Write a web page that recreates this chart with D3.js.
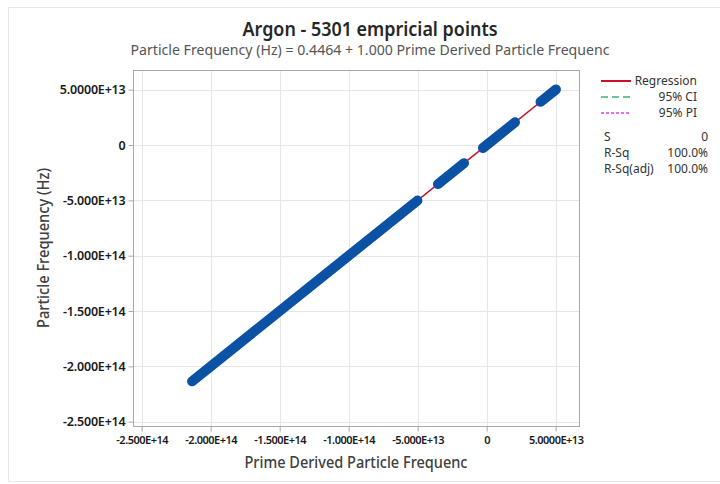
<!DOCTYPE html>
<html>
<head>
<meta charset="utf-8">
<script src="https://cdn.jsdelivr.net/npm/d3@7"></script>
<style>
  html, body { margin: 0; padding: 0; background: #fff; }
  svg { display: block; font-family: "Noto Sans", "Open Sans", sans-serif; }
</style>
</head>
<body>
<svg id="chart" width="720" height="484"></svg>
<script>
// Observed runs of points along the fit (Hz). Each run is dense enough to read as a solid band.
const runStartX = [-2.135e14, -3.53e13, -2.7e12, 3.90e13];
const runEndX   = [-5.02e13, -1.64e13, 2.05e13, 5.02e13];
const runStartY = [-2.135e14, -3.53e13, -2.7e12, 3.90e13];
const runEndY   = [-5.02e13, -1.64e13, 2.05e13, 5.02e13];

// Fitted regression
const intercept = 0.4464;
const slope = 1.000;

// Axis ticks
const tickValues = [-2.5e14, -2.0e14, -1.5e14, -1.0e14, -5.0e13, 0, 5.0e13];
const tickLabels = ["-2.500E+14", "-2.000E+14", "-1.500E+14", "-1.000E+14", "-5.000E+13", "0", "5.0000E+13"];

// Legend & summary
const legendNames = ["Regression", "95% CI", "95% PI"];
const legendColors = ["#c8102e", "#3cb371", "#e040e8"];
const legendDash = [null, "7,4", "3,2"];
const statNames = ["S", "R-Sq", "R-Sq(adj)"];
const statValues = ["0", "100.0%", "100.0%"];

const svg = d3.select("#chart");
const plot = { left: 133, top: 70, right: 579, bottom: 426 };

const x = d3.scaleLinear().domain([-2.563e14, 6.69e13]).range([plot.left, plot.right]);
const y = d3.scaleLinear().domain([-2.539e14, 6.78e13]).range([plot.bottom, plot.top]);

// outer panel edge
svg.append("rect").attr("x", 8.5).attr("y", 7.5).attr("width", 730).attr("height", 474)
  .attr("fill", "none").attr("stroke", "#e8e8e8");

// titles
svg.append("text").attr("x", 370).attr("y", 35.5).attr("text-anchor", "middle")
  .attr("font-size", 19).attr("font-weight", 600).attr("fill", "#262626")
  .attr("textLength", 255).attr("lengthAdjust", "spacingAndGlyphs")
  .text("Argon - 5301 empricial points");
svg.append("text").attr("x", 370).attr("y", 55).attr("text-anchor", "middle")
  .attr("font-size", 14.5).attr("fill", "#555")
  .attr("textLength", 479).attr("lengthAdjust", "spacingAndGlyphs")
  .text(`Particle Frequency (Hz) = ${intercept} + ${slope.toFixed(3)} Prime Derived Particle Frequenc`);

// gridlines
const grid = svg.append("g").attr("stroke", "#e6e6e6").attr("stroke-width", 1);
grid.selectAll(".gx").data(tickValues).join("line")
  .attr("x1", d => Math.round(x(d)) + 0.5).attr("x2", d => Math.round(x(d)) + 0.5)
  .attr("y1", plot.top).attr("y2", plot.bottom);
grid.selectAll(".gy").data(tickValues).join("line")
  .attr("y1", d => Math.round(y(d)) + 0.5).attr("y2", d => Math.round(y(d)) + 0.5)
  .attr("x1", plot.left).attr("x2", plot.right);

// plot frame
svg.append("rect").attr("x", plot.left + 0.5).attr("y", plot.top + 0.5)
  .attr("width", plot.right - plot.left).attr("height", plot.bottom - plot.top)
  .attr("fill", "none").attr("stroke", "#a8a8a8");

// axes
const fmt = d => tickLabels[tickValues.indexOf(d)];
const xAxis = svg.append("g").attr("transform", `translate(0,${plot.bottom + 0.5})`)
  .call(d3.axisBottom(x).tickValues(tickValues).tickFormat(fmt).tickSize(5).tickPadding(5));
const yAxis = svg.append("g").attr("transform", `translate(${plot.left + 0.5},0)`)
  .call(d3.axisLeft(y).tickValues(tickValues).tickFormat(fmt).tickSize(5).tickPadding(3));
[xAxis, yAxis].forEach(a => {
  a.select(".domain").remove();
  a.selectAll(".tick line").attr("stroke", "#a8a8a8");
  a.selectAll(".tick text").attr("fill", "#1a1a1a").attr("font-family", "'Noto Sans', sans-serif");
});
xAxis.selectAll(".tick text").attr("font-size", 11).attr("font-weight", 600)
  .attr("letter-spacing", -0.5);
yAxis.selectAll(".tick text").attr("font-size", 12.5).attr("font-weight", 600)
  .attr("letter-spacing", -0.2);

// axis titles
svg.append("text").attr("x", (plot.left + plot.right) / 2).attr("y", 468)
  .attr("text-anchor", "middle").attr("font-size", 15.5).attr("font-weight", 500).attr("fill", "#404040")
  .attr("textLength", 223).attr("lengthAdjust", "spacingAndGlyphs")
  .text("Prime Derived Particle Frequenc");
svg.append("text").attr("transform", `translate(49,${(plot.top + plot.bottom) / 2}) rotate(-90)`)
  .attr("text-anchor", "middle").attr("font-size", 15.5).attr("font-weight", 500).attr("fill", "#404040")
  .attr("textLength", 160).attr("lengthAdjust", "spacingAndGlyphs")
  .text("Particle Frequency (Hz)");

// regression line across the observed range
const xMin = d3.min(runStartX), xMax = d3.max(runEndX);
svg.append("line")
  .attr("x1", x(xMin)).attr("y1", y(intercept + slope * xMin))
  .attr("x2", x(xMax)).attr("y2", y(intercept + slope * xMax))
  .attr("stroke", legendColors[0]).attr("stroke-width", 1.5);

// point runs
svg.append("g").selectAll("line").data(d3.range(runStartX.length)).join("line")
  .attr("x1", i => x(runStartX[i])).attr("y1", i => y(runStartY[i]))
  .attr("x2", i => x(runEndX[i])).attr("y2", i => y(runEndY[i]))
  .attr("stroke", "#0b52a5").attr("stroke-width", 10).attr("stroke-linecap", "round");

// legend
const lg = svg.append("g").attr("font-size", 12).attr("fill", "#333");
legendNames.forEach((name, i) => {
  const yy = 81 + i * 16;
  lg.append("line").attr("x1", 601).attr("x2", 631).attr("y1", yy).attr("y2", yy)
    .attr("stroke", legendColors[i]).attr("stroke-width", i === 0 ? 2 : 1.5)
    .attr("stroke-dasharray", legendDash[i]);
  lg.append("text").attr("x", 697).attr("y", yy + 4).attr("text-anchor", "end")
    .attr("fill", "#333").text(name);
});
statNames.forEach((name, i) => {
  const yy = 141 + i * 16;
  lg.append("text").attr("x", 604).attr("y", yy).attr("fill", "#333").text(name);
  lg.append("text").attr("x", 708).attr("y", yy).attr("text-anchor", "end").attr("fill", "#333").text(statValues[i]);
});
</script>
</body>
</html>
